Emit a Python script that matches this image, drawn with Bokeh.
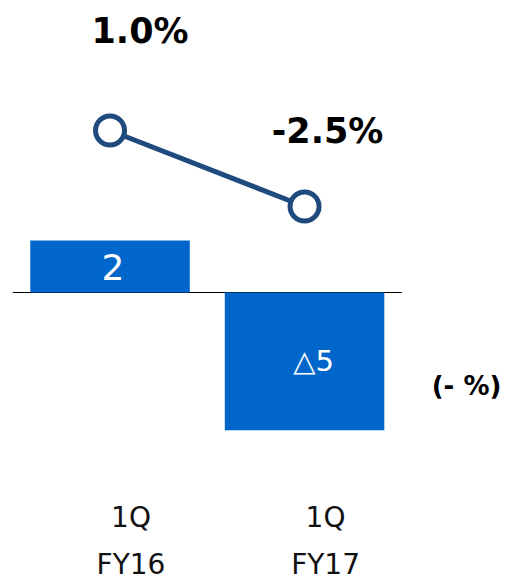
from bokeh.plotting import figure
from bokeh.models import Range1d, ColumnDataSource, Label
from bokeh.core.properties import value
from bokeh.embed import file_html
from bokeh.resources import INLINE

# ---- data ----
periods = ["1Q", "1Q"]
years = ["FY16", "FY17"]
change_values = [2.0, -5.3]
change_labels = ["2", "△5"]
pct_values = [1.0, -2.5]
pct_labels = ["1.0%", "-2.5%"]
unit_label = "(- %)"

# ---- layout / style ----
BAR_COLOR = "#0066CC"
LINE_COLOR = "#1F4A7E"
FONT = "DejaVu Sans"
W, H = 505, 582

idx = list(range(len(years)))

p = figure(width=W, height=H, output_backend="svg", toolbar_location=None,
           x_range=Range1d(-0.563, 2.033), y_range=Range1d(-11.154, 11.231),
           x_axis_location=None, y_axis_location=None,
           min_border=0, outline_line_color=None, background_fill_color="white")
p.grid.visible = False
p.extra_y_ranges = {"pct": Range1d(-19.816, 6.987)}

# baseline
p.segment(x0=[idx[0] - 0.5], y0=[0], x1=[idx[-1] + 0.5], y1=[0],
          line_color="black", line_width=1.2)

# bars
bar_src = ColumnDataSource(dict(
    x=idx, top=change_values, mid=[v / 2 for v in change_values],
    label=change_labels, fs=["36px", "29px"], xo=[3, 9]))
p.vbar(x="x", top="top", bottom=0, width=0.82, source=bar_src,
       fill_color=BAR_COLOR, line_color=None)
p.text(x="x", y="mid", text="label", source=bar_src, x_offset="xo",
       text_font=value(FONT), text_font_size="fs", text_color="white",
       text_align="center", text_baseline="middle")

# line
pct_src = ColumnDataSource(dict(x=idx, y=pct_values, label=pct_labels,
                                xo=[30, 23], yo=[-100, -76]))
p.line(x="x", y="y", source=pct_src, y_range_name="pct",
       line_color=LINE_COLOR, line_width=5)
p.scatter(x="x", y="y", source=pct_src, y_range_name="pct", size=29,
          fill_color="white", line_color=LINE_COLOR, line_width=5)
p.text(x="x", y="y", text="label", source=pct_src, y_range_name="pct",
       x_offset="xo", y_offset="yo",
       text_font=value(FONT), text_font_size="35px", text_font_style="bold",
       text_color="black", text_align="center", text_baseline="middle")

# category labels
cat_src = ColumnDataSource(dict(x=idx, base=[0] * len(idx), period=periods, year=years))
p.text(x="x", y="base", text="period", source=cat_src, x_offset=21, y_offset=225,
       text_font=value(FONT), text_font_size="28px", text_color="#111111",
       text_align="center", text_baseline="middle")
p.text(x="x", y="base", text="year", source=cat_src, x_offset=21, y_offset=272,
       text_font=value(FONT), text_font_size="28px", text_color="#111111",
       text_align="center", text_baseline="middle")

# unit label
p.add_layout(Label(x=466, y=H - 385, x_units="screen", y_units="screen",
                   text=unit_label, text_font=FONT, text_font_size="26px",
                   text_font_style="bold", text_color="black",
                   text_align="center", text_baseline="middle"))

open("out.html", "w").write(file_html(p, INLINE))
